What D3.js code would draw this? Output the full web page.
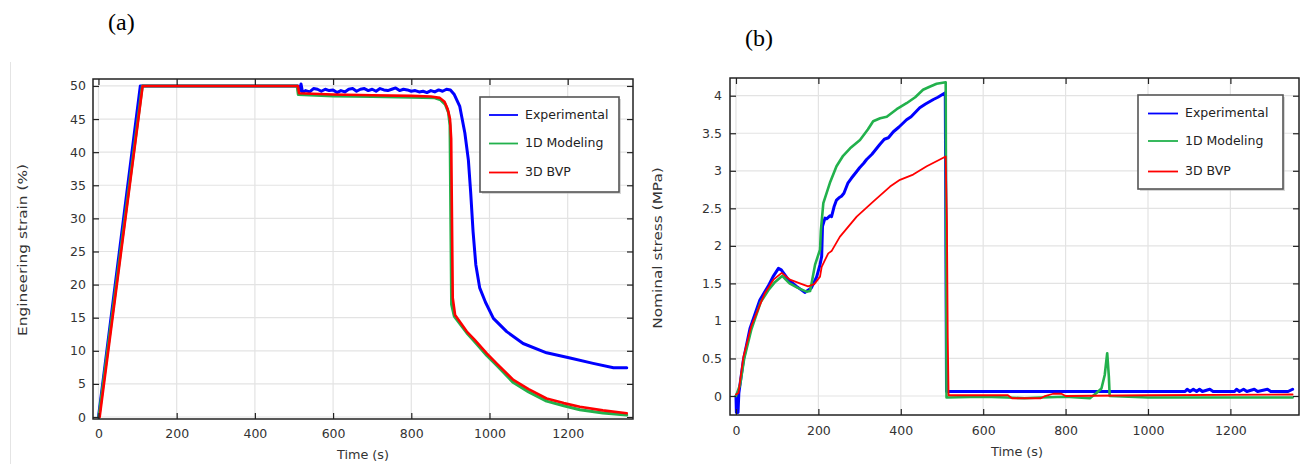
<!DOCTYPE html>
<html>
<head>
<meta charset="utf-8">
<script src="https://cdn.jsdelivr.net/npm/d3@7"></script>
<style>
  html, body { margin: 0; padding: 0; background: #fff; }
  svg { display: block; }
  text { font-family: "DejaVu Sans", sans-serif; }
</style>
</head>
<body>
<svg id="chart" width="1303" height="464"></svg>
<script>
// ---------- DATA ----------
const seriesNames = ["Experimental", "1D Modeling", "3D BVP"];
const seriesColors = ["#0000ff", "#22b14c", "#ff0000"];
const timeTicks = [0, 200, 400, 600, 800, 1000, 1200];
const strainTicks = [0, 5, 10, 15, 20, 25, 30, 35, 40, 45, 50];
const stressTicks = [0, 0.5, 1, 1.5, 2, 2.5, 3, 3.5, 4];

// (a) Engineering strain (%) vs time (s)
const strainExperimental = [
  [0,0],[107,50],[200,50],[300,50],[400,50],[510,50],[514,49.2],[518,50.3],[522,49.0],[530,49.3],
  [540,49.1],[550,49.6],[560,49.5],[570,49.2],[580,49.5],[590,49.3],[600,49.4],[610,49.0],[620,49.3],
  [630,49.1],[640,49.5],[650,49.6],[660,49.2],[670,49.5],[680,49.6],[690,49.3],[700,49.5],[710,49.2],
  [720,49.6],[730,49.4],[740,49.3],[750,49.5],[760,49.7],[770,49.3],[780,49.5],[790,49.4],[800,49.2],
  [810,49.3],[820,49.1],[830,49.2],[840,49.0],[850,49.3],[860,49.1],[870,49.4],[880,49.2],[890,49.5],
  [900,49.4],[910,48.7],[924,46.9],[937,42.9],[946,38.8],[952,33.8],[958,28],[965,23],[975,19.5],
  [990,17.3],[1010,14.9],[1044,12.9],[1086,11.1],[1146,9.7],[1206,8.9],[1265,8.1],[1317,7.45],[1351,7.45]
];
const strain1D = [
  [1,0],[112,50],[508,50],[511,48.7],[600,48.5],[700,48.4],[800,48.3],[860,48.2],[875,47.9],[887,47.2],
  [895,46],[899,44],[901,30],[903,17],[910,15.2],[942,12.7],[960,11.5],[993,9.3],[1020,7.7],[1061,5.2],
  [1100,3.8],[1146,2.4],[1190,1.7],[1231,1.1],[1290,0.6],[1351,0.3]
];
const strain3D = [
  [3,0],[113,50],[510,50],[513,48.9],[600,48.7],[700,48.6],[800,48.5],[850,48.4],[873,48.2],[885,47.6],
  [893,46.5],[899,45.0],[902,42],[904,30],[906,18],[912,15.4],[942,12.9],[960,11.8],[993,9.6],[1020,8.0],
  [1061,5.6],[1100,4.2],[1146,2.8],[1190,2.1],[1231,1.56],[1290,1.0],[1351,0.56]
];

// (b) Nominal stress (MPa) vs time (s)
const stressExperimental = [
  [0,0],[1,-0.22],[5,-0.22],[7,0.04],[18,0.48],[34,0.9],[58,1.28],[78,1.46],[90,1.59],[103,1.70],
  [110,1.68],[127,1.55],[147,1.46],[167,1.38],[183,1.44],[196,1.59],[204,1.75],[208,1.86],[210,2.26],
  [216,2.37],[220,2.36],[228,2.40],[232,2.39],[238,2.52],[244,2.61],[250,2.64],[256,2.66],[262,2.70],
  [272,2.84],[280,2.90],[293,2.99],[300,3.04],[310,3.10],[317,3.15],[330,3.22],[349,3.35],[360,3.42],
  [370,3.44],[382,3.52],[395,3.58],[414,3.68],[425,3.72],[446,3.84],[460,3.89],[479,3.95],[490,3.98],
  [508,4.04],[511,0.06],[600,0.06],[800,0.06],[1000,0.06],[1090,0.06],[1095,0.09],[1102,0.06],
  [1110,0.09],[1118,0.06],[1125,0.09],[1132,0.06],[1150,0.09],[1158,0.06],[1210,0.06],[1215,0.09],
  [1222,0.06],[1232,0.09],[1240,0.06],[1258,0.09],[1266,0.06],[1290,0.09],[1298,0.06],[1340,0.06],[1351,0.09]
];
const stress1D = [
  [0,0],[10,0.15],[20,0.5],[37,0.88],[60,1.25],[80,1.42],[95,1.52],[112,1.60],[130,1.50],[150,1.44],
  [171,1.39],[180,1.40],[192,1.75],[204,1.95],[206,2.2],[212,2.57],[228,2.84],[244,3.06],[260,3.2],
  [277,3.30],[301,3.41],[320,3.55],[333,3.66],[350,3.70],[366,3.72],[390,3.82],[414,3.90],[435,3.98],
  [454,4.08],[470,4.12],[487,4.16],[509,4.18],[511,-0.02],[600,-0.01],[660,-0.02],[700,-0.03],
  [740,-0.02],[800,-0.01],[859,-0.03],[875,0.04],[887,0.10],[895,0.28],[901,0.57],[905,0.26],[907,0],
  [1000,-0.02],[1351,-0.02]
];
const stress3D = [
  [0,0.02],[6,0.04],[18,0.52],[37,0.93],[70,1.37],[91,1.55],[111,1.64],[131,1.55],[155,1.50],[175,1.46],
  [190,1.49],[204,1.59],[208,1.72],[215,1.80],[224,1.90],[232,1.93],[252,2.12],[293,2.39],[333,2.59],
  [374,2.79],[398,2.88],[430,2.95],[463,3.06],[495,3.15],[509,3.19],[512,2.3],[514,0.78],[516,0.01],
  [660,0.01],[670,-0.03],[740,-0.03],[750,0.0],[770,0.03],[790,0.03],[800,0.0],[1000,0.01],[1351,0.02]
];

// ---------- DRAW ----------
const svg = d3.select("#chart");

// faint page edge line on the left
svg.append("line").attr("x1", 10.5).attr("x2", 10.5).attr("y1", 62).attr("y2", 464)
  .attr("stroke", "#e4e4e4").attr("stroke-width", 1);

// panel letters
svg.append("text").attr("x", 108).attr("y", 30).text("(a)")
  .style("font-family", "'Liberation Serif', serif").style("font-size", "24px").attr("fill", "#000");
svg.append("text").attr("x", 745).attr("y", 46).text("(b)")
  .style("font-family", "'Liberation Serif', serif").style("font-size", "24px").attr("fill", "#000");

function panel(cfg) {
  const { left, right, top, bottom, xDomain, yDomain, yTicks, yFormat, series, widths,
          yTitle, yTitleX, yTitleY, xTitleX, xTitleY, xPad, yPad, legend } = cfg;
  const x = d3.scaleLinear().domain(xDomain).range([left, right]);
  const y = d3.scaleLinear().domain(yDomain).range([bottom, top]);
  const g = svg.append("g");

  // grid
  g.append("g").selectAll("line").data(timeTicks).join("line")
    .attr("x1", d => x(d)).attr("x2", d => x(d)).attr("y1", top).attr("y2", bottom)
    .attr("stroke", "#e3e3e3").attr("stroke-width", 1.2);
  g.append("g").selectAll("line").data(yTicks).join("line")
    .attr("y1", d => y(d)).attr("y2", d => y(d)).attr("x1", left).attr("x2", right)
    .attr("stroke", "#e3e3e3").attr("stroke-width", 1.2);

  // lines
  const line = d3.line().x(d => x(d[0])).y(d => y(d[1]));
  const clipId = "clip" + left;
  svg.append("clipPath").attr("id", clipId).append("rect")
    .attr("x", left).attr("y", top).attr("width", right - left).attr("height", bottom - top);
  const lg = g.append("g").attr("clip-path", `url(#${clipId})`);
  series.forEach((s, i) => {
    lg.append("path").datum(s).attr("d", line).attr("fill", "none")
      .attr("stroke", seriesColors[i]).attr("stroke-width", widths[i])
      .attr("stroke-linejoin", "round").attr("stroke-linecap", "round");
  });

  // axes
  const axB = g.append("g").attr("transform", `translate(0,${bottom})`)
    .call(d3.axisBottom(x).tickValues(timeTicks).tickFormat(d3.format("d")).tickSize(-6).tickPadding(xPad));
  const axL = g.append("g").attr("transform", `translate(${left},0)`)
    .call(d3.axisLeft(y).tickValues(yTicks).tickFormat(yFormat).tickSize(-6).tickPadding(yPad));
  const axT = g.append("g").attr("transform", `translate(0,${top})`)
    .call(d3.axisTop(x).tickValues(timeTicks).tickSize(-6).tickFormat(""));
  const axR = g.append("g").attr("transform", `translate(${right},0)`)
    .call(d3.axisRight(y).tickValues(yTicks).tickSize(-6).tickFormat(""));
  [axB, axL, axT, axR].forEach(a => {
    a.select(".domain").remove();
    a.selectAll(".tick line").attr("stroke", "#222").attr("stroke-width", 1.2);
    a.selectAll("text").style("font-family", "'DejaVu Sans', sans-serif")
      .style("font-size", "12.5px").attr("fill", "#333");
  });
  // frame
  g.append("rect").attr("x", left).attr("y", top).attr("width", right - left).attr("height", bottom - top)
    .attr("fill", "none").attr("stroke", "#222").attr("stroke-width", 1.5);

  // titles
  g.append("text").attr("x", xTitleX).attr("y", xTitleY).attr("text-anchor", "middle")
    .attr("dominant-baseline", "middle").style("font-size", "12.8px").attr("fill", "#333").text("Time (s)");
  g.append("text").attr("transform", `translate(${yTitleX},${yTitleY}) rotate(-90) scale(1.18,1)`)
    .attr("text-anchor", "middle").attr("dominant-baseline", "middle")
    .style("font-size", "13px").attr("fill", "#333").text(yTitle);

  // legend
  const L = legend;
  g.append("rect").attr("x", L.x + 2).attr("y", L.y + 2).attr("width", L.w).attr("height", L.h)
    .attr("fill", "#bbb").attr("opacity", 0.6);
  g.append("rect").attr("x", L.x).attr("y", L.y).attr("width", L.w).attr("height", L.h)
    .attr("fill", "#fff").attr("stroke", "#555").attr("stroke-width", 1.6);
  seriesNames.forEach((n, i) => {
    const yy = L.rows[i];
    g.append("line").attr("x1", L.lx1).attr("x2", L.lx2).attr("y1", yy).attr("y2", yy)
      .attr("stroke", seriesColors[i]).attr("stroke-width", 1.8);
    g.append("text").attr("x", L.tx).attr("y", yy).attr("dominant-baseline", "middle")
      .style("font-size", "12.5px").attr("fill", "#222").text(n);
  });
}

panel({
  left: 93, right: 633, top: 79, bottom: 419,
  xDomain: [-14, 1367], yDomain: [-0.3, 51.05], yTicks: strainTicks, yFormat: d3.format("d"),
  series: [strainExperimental, strain1D, strain3D], widths: [3, 3, 2.6],
  yTitle: "Engineering strain (%)", yTitleX: 23, yTitleY: 250,
  xTitleX: 363, xTitleY: 455, xPad: 10, yPad: 7,
  legend: { x: 480, y: 97, w: 139, h: 95, lx1: 489, lx2: 518, tx: 525, rows: [115, 143.5, 172.5] }
});

panel({
  left: 730, right: 1299, top: 78, bottom: 415,
  xDomain: [-14.5, 1366.5], yDomain: [-0.253, 4.236], yTicks: stressTicks, yFormat: d => d3.format("~g")(d),
  series: [stressExperimental, stress1D, stress3D], widths: [3, 2.6, 1.8],
  yTitle: "Nominal stress (MPa)", yTitleX: 658, yTitleY: 248,
  xTitleX: 1017, xTitleY: 452, xPad: 11, yPad: 8,
  legend: { x: 1138, y: 95, w: 145, h: 94, lx1: 1148, lx2: 1178, tx: 1185, rows: [113.5, 141, 171.5] }
});
</script>
</body>
</html>
